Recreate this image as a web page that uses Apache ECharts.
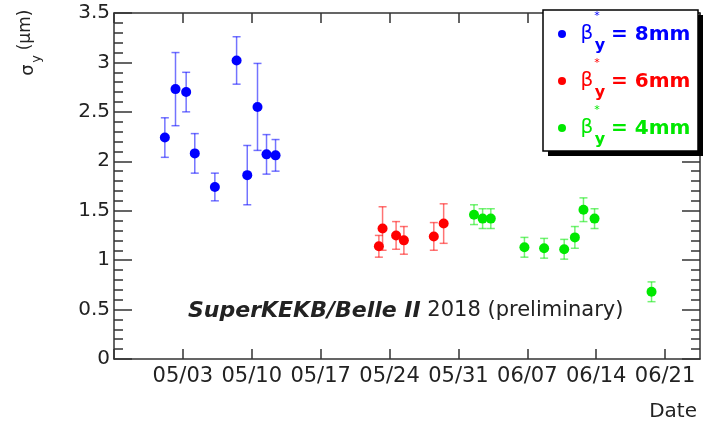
<!DOCTYPE html>
<html>
<head>
<meta charset="utf-8">
<title>sigma_y vs date</title>
<script src="https://cdn.jsdelivr.net/npm/echarts@6/dist/echarts.min.js"></script>
<style>
  html, body { margin: 0; padding: 0; background: #fff; }
  #chart { width: 706px; height: 425px; }
</style>
</head>
<body>
<div id="chart"></div>
<script>
// time axis: days counted from startDate, ticks every week
const startDate = '2018-04-26T00:00';
const endDay = 59.55;
const tickStep = 7;

// beta_y* = 8mm
const blueDates = ['2018-05-01T04:00', '2018-05-02T06:00', '2018-05-03T08:00', '2018-05-04T05:00', '2018-05-06T06:00',
                   '2018-05-08T11:00', '2018-05-09T13:00', '2018-05-10T14:00', '2018-05-11T12:00', '2018-05-12T10:00'];
const blueSigma = [2.24, 2.73, 2.70, 2.08, 1.74, 3.02, 1.86, 2.55, 2.07, 2.06];
const blueErr   = [0.20, 0.37, 0.20, 0.20, 0.14, 0.24, 0.30, 0.44, 0.20, 0.16];

// beta_y* = 6mm
const redDates = ['2018-05-22T22:00', '2018-05-23T07:00', '2018-05-24T16:00', '2018-05-25T11:00', '2018-05-28T12:00', '2018-05-29T12:00'];
const redSigma = [1.14, 1.32, 1.25, 1.20, 1.24, 1.37];
const redErr   = [0.11, 0.22, 0.14, 0.14, 0.14, 0.20];

// beta_y* = 4mm
const greenDates = ['2018-06-01T14:00', '2018-06-02T11:00', '2018-06-03T07:00', '2018-06-06T17:00', '2018-06-08T17:00',
                    '2018-06-10T18:00', '2018-06-11T20:00', '2018-06-12T17:00', '2018-06-13T20:00', '2018-06-19T15:00'];
const greenSigma = [1.46, 1.42, 1.42, 1.13, 1.12, 1.11, 1.23, 1.51, 1.42, 0.68];
const greenErr   = [0.10, 0.10, 0.10, 0.10, 0.10, 0.10, 0.11, 0.12, 0.10, 0.10];

const setNames  = ['8mm', '6mm', '4mm'];
const setColors = ['#0000ff', '#ff0000', '#00e800'];

const FONT = 'DejaVu Sans';
const AXIS_COLOR = '#333';

function dayOf(s) {
    return (Date.parse(s + 'Z') - Date.parse(startDate + 'Z')) / 864e5;
}

function dayLabel(v) {
    const k = Math.round(v);
    if (k <= 0 || Math.abs(v - k) > 1e-6 || k % tickStep !== 0) return '';
    const d = new Date(Date.parse(startDate + 'Z') + k * 864e5);
    const mm = String(d.getUTCMonth() + 1).padStart(2, '0');
    const dd = String(d.getUTCDate()).padStart(2, '0');
    return mm + '/' + dd;
}

function toData(dates, sigma, err) {
    return dates.map((s, i) => [dayOf(s), sigma[i], err[i]]);
}

const sets = [
    toData(blueDates, blueSigma, blueErr),
    toData(redDates, redSigma, redErr),
    toData(greenDates, greenSigma, greenErr)
];

// vertical error bar with small caps
function errorBar(params, api) {
    const x = api.value(0), v = api.value(1), e = api.value(2);
    const hi = api.coord([x, v + e]);
    const lo = api.coord([x, v - e]);
    const cap = 4;
    const style = { stroke: api.visual('color'), lineWidth: 1.5, opacity: 0.55 };
    return {
        type: 'group',
        children: [
            { type: 'line', shape: { x1: hi[0], y1: hi[1], x2: lo[0], y2: lo[1] }, style: style },
            { type: 'line', shape: { x1: hi[0] - cap, y1: hi[1], x2: hi[0] + cap, y2: hi[1] }, style: style },
            { type: 'line', shape: { x1: lo[0] - cap, y1: lo[1], x2: lo[0] + cap, y2: lo[1] }, style: style }
        ]
    };
}

const series = [];
sets.forEach((data, i) => {
    series.push({
        name: setNames[i],
        type: 'custom',
        renderItem: errorBar,
        itemStyle: { color: setColors[i] },
        encode: { x: 0, y: 1 },
        data: data,
        z: 2
    });
    series.push({
        name: setNames[i],
        type: 'scatter',
        symbol: 'circle',
        symbolSize: 10,
        itemStyle: { color: setColors[i], opacity: 1 },
        data: data.map(d => [d[0], d[1]]),
        z: 3
    });
});

const lineStyle = { color: AXIS_COLOR, width: 1.5 };

// legend box drawn by hand (ROOT style with shadow)
const legendItems = [];
legendItems.push({ type: 'rect', shape: { x: 548, y: 15, width: 155, height: 141 }, style: { fill: '#000' }, z: 10 });
legendItems.push({ type: 'rect', shape: { x: 543, y: 10, width: 155, height: 141 }, style: { fill: '#fff', stroke: '#000', lineWidth: 1.5 }, z: 11 });
const rowY = [34, 81, 128];
setNames.forEach((n, i) => {
    const y = rowY[i], c = setColors[i];
    legendItems.push({ type: 'circle', shape: { cx: 562, cy: y, r: 4 }, style: { fill: c }, z: 12 });
    legendItems.push({ type: 'text', x: 587, y: y, z: 12,
        style: { text: 'β', fill: c, font: '20px "' + FONT + '"', align: 'center', verticalAlign: 'middle' } });
    legendItems.push({ type: 'text', x: 600, y: y + 12, z: 12,
        style: { text: 'y', fill: c, font: 'bold 16px "' + FONT + '"', align: 'center', verticalAlign: 'middle' } });
    legendItems.push({ type: 'text', x: 597, y: y - 18, z: 12,
        style: { text: '*', fill: c, font: '11px "' + FONT + '"', align: 'center', verticalAlign: 'middle' } });
    legendItems.push({ type: 'text', x: 611, y: y + 1, z: 12,
        style: { text: '= ' + n, fill: c, font: 'bold 20px "' + FONT + '"', align: 'left', verticalAlign: 'middle' } });
});

const option = {
    animation: false,
    backgroundColor: '#fff',
    grid: { left: 114, right: 6, top: 13, bottom: 66, containLabel: false },
    xAxis: [
        {
            type: 'value', position: 'bottom', min: 0, max: endDay, interval: tickStep,
            axisLine: { show: true, onZero: false, lineStyle: lineStyle },
            axisTick: { show: true, inside: true, length: 10, lineStyle: lineStyle },
            axisLabel: { formatter: dayLabel, fontFamily: FONT, fontSize: 21, color: '#222', margin: 7, showMaxLabel: false },
            splitLine: { show: false }
        },
        {
            type: 'value', position: 'top', min: 0, max: endDay, interval: tickStep,
            axisLine: { show: true, onZero: false, lineStyle: lineStyle },
            axisTick: { show: true, inside: true, length: 10, lineStyle: lineStyle },
            axisLabel: { show: false },
            splitLine: { show: false }
        }
    ],
    yAxis: [
        {
            type: 'value', position: 'left', min: 0, max: 3.5, interval: 0.5,
            axisLine: { show: true, onZero: false, lineStyle: lineStyle },
            axisTick: { show: true, inside: true, length: 18, lineStyle: lineStyle },
            minorTick: { show: true, splitNumber: 5, length: 9, lineStyle: lineStyle },
            axisLabel: { fontFamily: FONT, fontSize: 20, color: '#222', margin: 4 },
            splitLine: { show: false }
        },
        {
            type: 'value', position: 'right', min: 0, max: 3.5, interval: 0.5,
            axisLine: { show: true, onZero: false, lineStyle: lineStyle },
            axisTick: { show: true, inside: true, length: 18, lineStyle: lineStyle },
            minorTick: { show: true, splitNumber: 5, length: 9, lineStyle: lineStyle },
            axisLabel: { show: false },
            splitLine: { show: false }
        }
    ],
    series: series,
    graphic: [
        // y axis title: sigma_y (um), rotated
        { type: 'text', x: 28, y: 70, rotation: Math.PI / 2,
          style: { text: 'σ', fill: '#222', font: '18px "' + FONT + '"', align: 'center', verticalAlign: 'middle' } },
        { type: 'text', x: 37, y: 59, rotation: Math.PI / 2,
          style: { text: 'y', fill: '#222', font: '13px "' + FONT + '"', align: 'center', verticalAlign: 'middle' } },
        { type: 'text', x: 26, y: 30, rotation: Math.PI / 2,
          style: { text: '(μm)', fill: '#222', font: '17px "' + FONT + '"', align: 'center', verticalAlign: 'middle' } },
        // x axis title
        { type: 'text', x: 697, y: 412,
          style: { text: 'Date', fill: '#222', font: '20px "' + FONT + '"', align: 'right', verticalAlign: 'middle' } },
        // experiment label
        { type: 'text', x: 188, y: 311, z: 5,
          style: {
              text: '{b|SuperKEKB/Belle II}  {n|2018 (preliminary)}',
              verticalAlign: 'middle',
              rich: {
                  b: { fontFamily: FONT, fontSize: 22, fontWeight: 'bold', fontStyle: 'italic', fill: '#222' },
                  n: { fontFamily: FONT, fontSize: 21, fill: '#222' }
              }
          } }
    ].concat(legendItems)
};

const myChart = echarts.init(document.getElementById('chart'));
myChart.setOption(option);
</script>
</body>
</html>
